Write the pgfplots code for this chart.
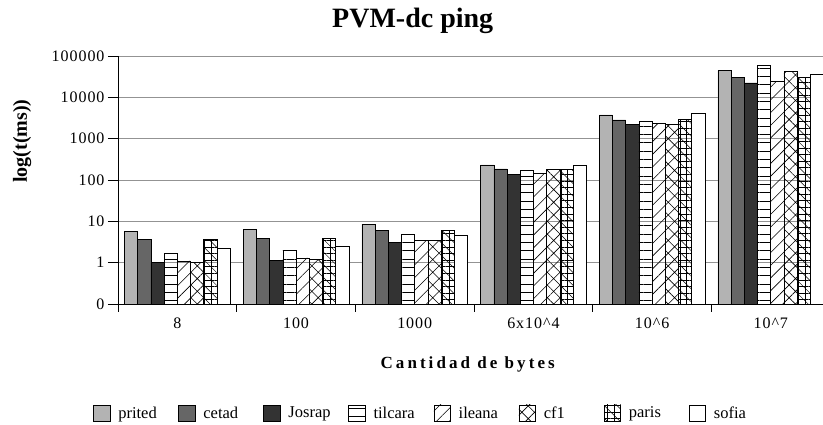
\documentclass[border=0pt]{standalone}
\usepackage{fontspec}
\setmainfont{Liberation Serif}
\usepackage{pgfplots}
\pgfplotsset{compat=1.18}
\usetikzlibrary{patterns.meta}
\definecolor{cPrited}{HTML}{B3B3B3}
\definecolor{cCetad}{HTML}{666666}
\definecolor{cJosrap}{HTML}{333333}
\newcommand{\legtxt}[1]{\makebox[64pt][l]{\hspace{6pt}#1}}
\begin{document}
\begin{tikzpicture}
\useasboundingbox (0,0) rectangle (823pt,425pt);
\begin{axis}[
  at={(118pt,121pt)}, anchor=south west,
  scale only axis, width=705pt, height=248pt,
  ymode=log, log origin=infty,
  ymin=0.1, ymax=100000,
  xmin=-0.5, xmax=5.44,
  ybar=0pt, bar width=13.2pt,
  axis x line*=bottom, axis y line*=left,
  axis line style={black, line width=0.8pt},
  ytick={0.1,1,10,100,1000,10000,100000},
  yticklabels={0,1,10,100,1000,10000,100000},
  yminorticks=false,
  xtick={0,1,2,3,4,5},
  xticklabels={8,100,1000,{6x10\textasciicircum 4},10\textasciicircum 6,10\textasciicircum 7},
  minor xtick={-0.5,0.5,1.5,2.5,3.5,4.5},
  major x tick style={draw=none},
  minor x tick style={black, line width=0.8pt},
  y tick style={black, line width=0.8pt},
  tick align=outside,
  major tick length=10pt, minor tick length=8pt,
  ymajorgrids, grid style={gray!85, line width=0.8pt},
  tick label style={font=\fontsize{16}{18}\selectfont\addfontfeature{LetterSpace=6}},
  title={PVM-dc ping},
  title style={at={(axis description cs:0.418,1.117)}, anchor=center, font=\bfseries\fontsize{28}{32}\selectfont},
  ylabel={log(t(ms))},
  ylabel style={at={(axis description cs:-0.136,0.657)}, anchor=center, rotate=0, font=\bfseries\fontsize{20}{24}\selectfont},
  xlabel={Cantidad de bytes},
  xlabel style={at={(axis description cs:0.496,-0.242)}, anchor=center, font=\bfseries\fontsize{17}{20}\selectfont\addfontfeature{LetterSpace=18}},
  every axis plot/.append style={draw=black, line width=0.6pt,
    legend image code/.code={\draw[##1,/tikz/.cd] (0pt,-8.2pt) rectangle (16.5pt,8.2pt);}},
  legend columns=8,
  legend style={draw=none, fill=none, inner sep=0pt, at={(axis description cs:-0.0355,-0.44)}, anchor=west,
    font=\fontsize{16.5}{18}\selectfont, nodes={inner sep=2pt}},
  legend cell align=left,
]
\addplot[fill=cPrited] coordinates {(0,5.7) (1,6.4) (2,8.6) (3,231) (4,3750) (5,44000)};
\addplot[fill=cCetad] coordinates {(0,3.7) (1,3.9) (2,5.96) (3,185) (4,2840) (5,29700)};
\addplot[fill=cJosrap] coordinates {(0,1.0) (1,1.12) (2,3.1) (3,134) (4,2230) (5,22400)};
\addplot[pattern={Lines[angle=0,distance=8.3pt,line width=0.7pt]}] coordinates {(0,1.65) (1,2.0) (2,4.9) (3,175) (4,2640) (5,59300)};
\addplot[pattern={Lines[angle=45,distance=9pt,line width=0.6pt]}] coordinates {(0,1.1) (1,1.3) (2,3.46) (3,145) (4,2355) (5,24200)};
\addplot[pattern={Hatch[angle=45,distance=9pt,line width=0.6pt]}] coordinates {(0,1.0) (1,1.22) (2,3.46) (3,177) (4,2230) (5,41700)};
\addplot[pattern={Hatch[angle=0,distance=6.6pt,line width=0.5pt]}, postaction={pattern={Lines[angle=-45,distance=9pt,line width=0.5pt]}}] coordinates {(0,3.7) (1,3.9) (2,5.96) (3,180) (4,2890) (5,29700)};
\addplot[fill=white] coordinates {(0,2.26) (1,2.44) (2,4.5) (3,231) (4,4030) (5,35200)};
\legend{\legtxt{prited},\legtxt{cetad},\legtxt{Josrap},\legtxt{tilcara},\legtxt{ileana},\legtxt{cf1},\legtxt{paris},\legtxt{sofia}}
\end{axis}
\end{tikzpicture}
\end{document}
